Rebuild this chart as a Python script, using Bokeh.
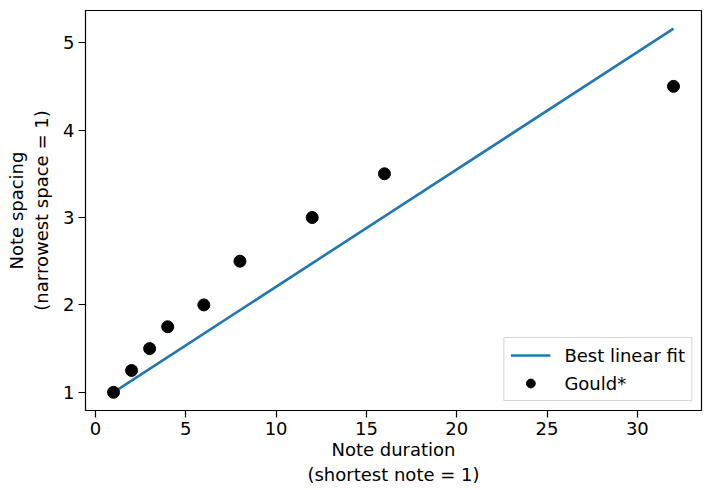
from bokeh.plotting import figure
from bokeh.models import FixedTicker, Range1d, Legend, LegendItem
from bokeh.embed import file_html
from bokeh.resources import INLINE

# data
duration = [1, 2, 3, 4, 6, 8, 12, 16, 32]
spacing = [1.0, 1.25, 1.5, 1.75, 2.0, 2.5, 3.0, 3.5, 4.5]
fit_x = [1, 32]
fit_y = [1.0, 5.16]
x_ticks = [0, 5, 10, 15, 20, 25, 30]
y_ticks = [1, 2, 3, 4, 5]

FONT = "DejaVu Sans"
FS = "18px"

p = figure(width=704, height=490, output_backend="svg", toolbar_location=None,
           x_range=Range1d(-0.55, 33.55), y_range=Range1d(0.792, 5.368))
p.min_border_left = 85
p.min_border_right = 3
p.min_border_top = 10
p.min_border_bottom = 80
p.background_fill_color = "white"
p.border_fill_color = "white"
p.outline_line_color = "black"
p.outline_line_width = 1.2
p.grid.visible = False

fit = p.line(fit_x, fit_y, line_color="#1f77b4", line_width=2.6)
pts = p.scatter(duration, spacing, size=12, fill_color="black", line_color="black")

for ax in (p.xaxis[0], p.yaxis[0]):
    ax.axis_line_color = None
    ax.major_tick_line_color = "black"
    ax.major_tick_line_width = 1.2
    ax.major_tick_out = 7
    ax.major_tick_in = 0
    ax.minor_tick_line_color = None
    ax.major_label_text_font = FONT
    ax.major_label_text_font_size = FS
    ax.major_label_text_color = "black"
    ax.axis_label_text_font = FONT
    ax.axis_label_text_font_size = FS
    ax.axis_label_text_font_style = "normal"
    ax.axis_label_text_color = "black"

p.xaxis[0].ticker = FixedTicker(ticks=x_ticks)
p.yaxis[0].ticker = FixedTicker(ticks=y_ticks)
p.xaxis[0].axis_label = "Note duration\n(shortest note = 1)"
p.yaxis[0].axis_label = "Note spacing\n(narrowest space = 1)"
p.xaxis[0].major_label_standoff = 4
p.yaxis[0].major_label_standoff = 4
p.xaxis[0].axis_label_standoff = 1
p.yaxis[0].axis_label_standoff = 8

legend = Legend(items=[LegendItem(label="Best linear fit", renderers=[fit]),
                       LegendItem(label="Gould*", renderers=[pts])],
                location="bottom_right")
legend.margin = 9
legend.padding = 6
legend.spacing = 6
legend.glyph_width = 40
legend.glyph_height = 22
legend.label_standoff = 14
legend.label_text_font = FONT
legend.label_text_font_size = FS
legend.label_text_color = "black"
legend.border_line_color = "#cccccc"
legend.border_line_alpha = 0.8
legend.background_fill_alpha = 0.8
p.add_layout(legend)

open("out.html", "w").write(file_html(p, INLINE))
